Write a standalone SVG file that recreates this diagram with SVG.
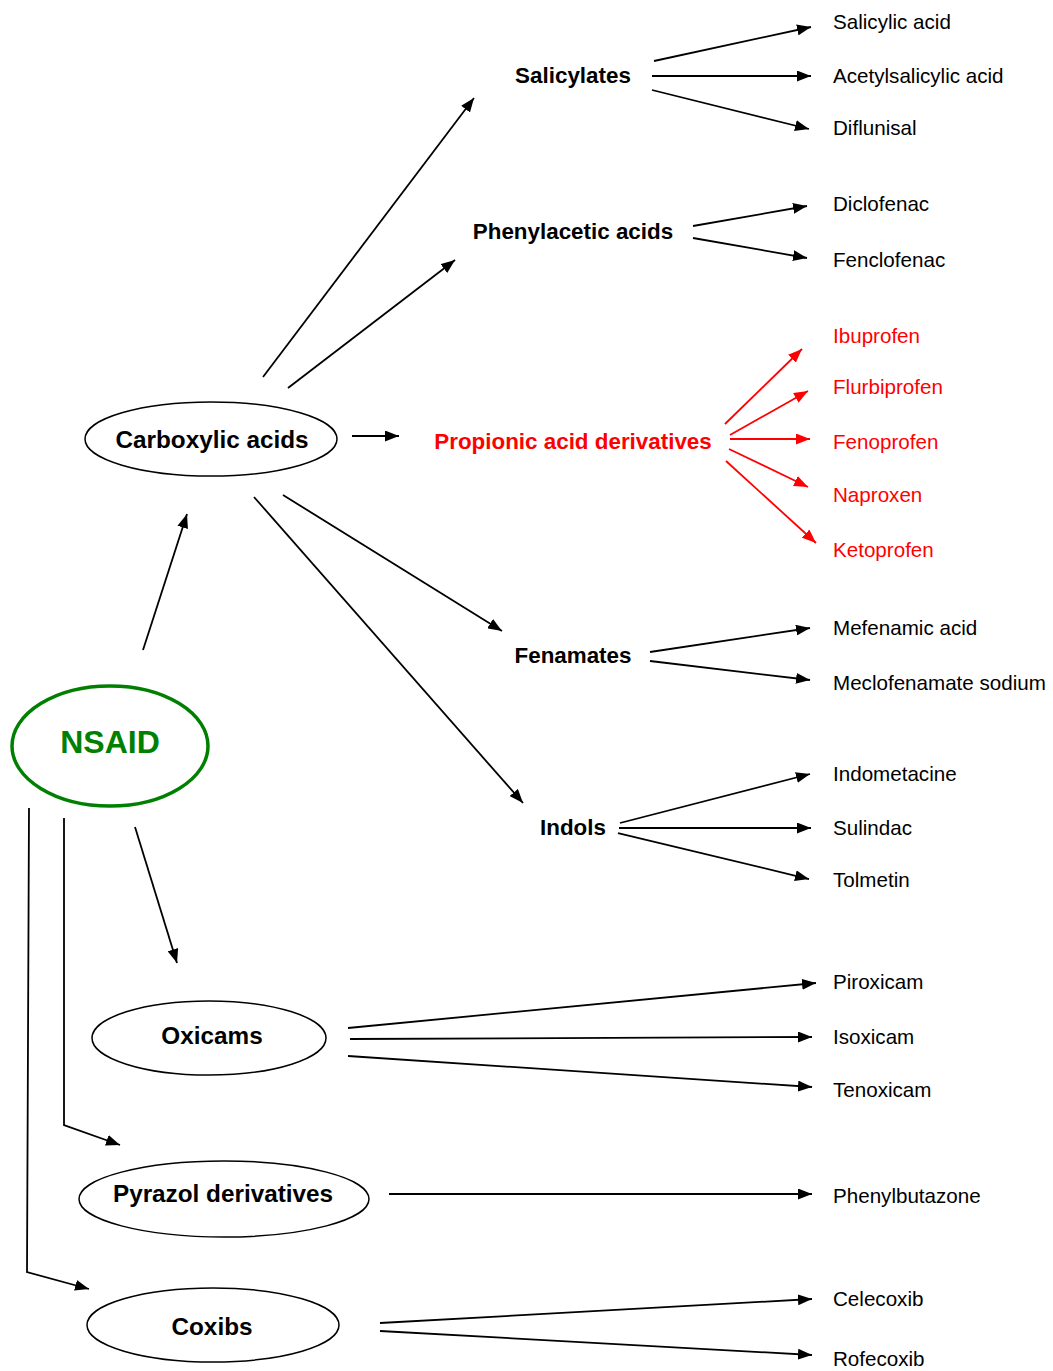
<svg xmlns="http://www.w3.org/2000/svg" width="1053" height="1371" viewBox="0 0 1053 1371">
<style>
text{font-family:"Liberation Sans",Arial,sans-serif}
.leaf{font-size:20.6px;fill:#000}
.red{fill:#ff0000}
.lbl{font-size:22.4px;font-weight:bold;text-anchor:middle;fill:#000}
.el{font-size:24.3px;font-weight:bold;text-anchor:middle;fill:#000}
.ell{fill:#fff;stroke:#000;stroke-width:1.5}
.c{fill:none;stroke:#000;stroke-width:1.8;marker-end:url(#ah)}
.cr{fill:none;stroke:#ff0000;stroke-width:1.8;marker-end:url(#ahr)}
</style>
<defs>
<marker id="ah" markerUnits="userSpaceOnUse" markerWidth="15" markerHeight="11" refX="14" refY="5.5" orient="auto"><path d="M0,0 L14,5.5 L0,11 Z" fill="#000"/></marker>
<marker id="ahr" markerUnits="userSpaceOnUse" markerWidth="15" markerHeight="11" refX="14" refY="5.5" orient="auto"><path d="M0,0 L14,5.5 L0,11 Z" fill="#ff0000"/></marker>
</defs>
<rect width="1053" height="1371" fill="#fff"/>
<g id="connectors">
<line class="c" x1="143" y1="650" x2="187" y2="514"/>
<line class="c" x1="263" y1="377" x2="474" y2="98"/>
<line class="c" x1="288" y1="388" x2="455" y2="260"/>
<line class="c" x1="352" y1="436" x2="399" y2="436"/>
<line class="c" x1="283" y1="495" x2="502" y2="631"/>
<line class="c" x1="254" y1="497" x2="523" y2="803"/>
<line class="c" x1="654" y1="61" x2="811" y2="27"/>
<line class="c" x1="652" y1="76" x2="811" y2="76"/>
<line class="c" x1="652" y1="90" x2="809" y2="129"/>
<line class="c" x1="693" y1="226" x2="807" y2="206"/>
<line class="c" x1="693" y1="238" x2="807" y2="258"/>
<line class="cr" x1="725" y1="424" x2="802" y2="349"/>
<line class="cr" x1="730" y1="435" x2="808" y2="391"/>
<line class="cr" x1="730" y1="439" x2="810" y2="439"/>
<line class="cr" x1="729" y1="449" x2="808" y2="487"/>
<line class="cr" x1="726" y1="461" x2="816" y2="543"/>
<line class="c" x1="650" y1="652" x2="810" y2="628"/>
<line class="c" x1="650" y1="661" x2="810" y2="680"/>
<line class="c" x1="620" y1="823" x2="810" y2="774"/>
<line class="c" x1="619" y1="828" x2="811" y2="828"/>
<line class="c" x1="618" y1="833" x2="809" y2="879"/>
<line class="c" x1="135" y1="827" x2="177" y2="963"/>
<line class="c" x1="348" y1="1028" x2="816" y2="983"/>
<line class="c" x1="350" y1="1039" x2="812" y2="1037"/>
<line class="c" x1="348" y1="1056" x2="812" y2="1087"/>
<polyline class="c" points="64,818 64,1125 120,1145"/>
<polyline class="c" points="29,808 27,1272 89,1289"/>
<line class="c" x1="389" y1="1194" x2="812" y2="1194"/>
<line class="c" x1="380" y1="1323" x2="812" y2="1299"/>
<line class="c" x1="380" y1="1331" x2="812" y2="1355"/>
</g>
<g id="nsaid"><ellipse cx="110" cy="746" rx="98" ry="60" fill="#fff" stroke="#008000" stroke-width="3.5"/><text x="110" y="753" text-anchor="middle" font-size="32" font-weight="bold" fill="#008000">NSAID</text></g>
<g id="carboxylic"><ellipse class="ell" cx="211" cy="439" rx="126" ry="37"/><text class="el" x="212" y="448">Carboxylic acids</text></g>
<g id="oxicams"><ellipse class="ell" cx="209" cy="1038" rx="117" ry="37"/><text class="el" x="212" y="1044">Oxicams</text></g>
<g id="pyrazol"><ellipse class="ell" cx="224" cy="1199" rx="145" ry="38"/><text class="el" x="223" y="1202">Pyrazol derivatives</text></g>
<g id="coxibs"><ellipse class="ell" cx="213" cy="1325" rx="126" ry="37"/><text class="el" x="212" y="1335">Coxibs</text></g>
<g id="salicylates"><text class="lbl" x="573" y="83">Salicylates</text></g>
<g id="phenylacetic"><text class="lbl" x="573" y="239">Phenylacetic acids</text></g>
<g id="propionic"><text class="lbl" x="573" y="449" style="fill:#ff0000">Propionic acid derivatives</text></g>
<g id="fenamates"><text class="lbl" x="573" y="663">Fenamates</text></g>
<g id="indols"><text class="lbl" x="573" y="835">Indols</text></g>
<g id="leaves">
<g id="salicylic-acid"><text class="leaf" x="833" y="29">Salicylic acid</text></g>
<g id="acetylsalicylic-acid"><text class="leaf" x="833" y="83">Acetylsalicylic acid</text></g>
<g id="diflunisal"><text class="leaf" x="833" y="135">Diflunisal</text></g>
<g id="diclofenac"><text class="leaf" x="833" y="211">Diclofenac</text></g>
<g id="fenclofenac"><text class="leaf" x="833" y="267">Fenclofenac</text></g>
<g id="ibuprofen"><text class="leaf red" x="833" y="343">Ibuprofen</text></g>
<g id="flurbiprofen"><text class="leaf red" x="833" y="394">Flurbiprofen</text></g>
<g id="fenoprofen"><text class="leaf red" x="833" y="449">Fenoprofen</text></g>
<g id="naproxen"><text class="leaf red" x="833" y="502">Naproxen</text></g>
<g id="ketoprofen"><text class="leaf red" x="833" y="557">Ketoprofen</text></g>
<g id="mefenamic-acid"><text class="leaf" x="833" y="635">Mefenamic acid</text></g>
<g id="meclofenamate"><text class="leaf" x="833" y="690">Meclofenamate sodium</text></g>
<g id="indometacine"><text class="leaf" x="833" y="781">Indometacine</text></g>
<g id="sulindac"><text class="leaf" x="833" y="835">Sulindac</text></g>
<g id="tolmetin"><text class="leaf" x="833" y="887">Tolmetin</text></g>
<g id="piroxicam"><text class="leaf" x="833" y="989">Piroxicam</text></g>
<g id="isoxicam"><text class="leaf" x="833" y="1044">Isoxicam</text></g>
<g id="tenoxicam"><text class="leaf" x="833" y="1097">Tenoxicam</text></g>
<g id="phenylbutazone"><text class="leaf" x="833" y="1203">Phenylbutazone</text></g>
<g id="celecoxib"><text class="leaf" x="833" y="1306">Celecoxib</text></g>
<g id="rofecoxib"><text class="leaf" x="833" y="1366">Rofecoxib</text></g>
</g>
</svg>
